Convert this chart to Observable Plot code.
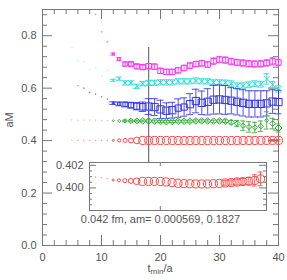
<!DOCTYPE html>
<html><head><meta charset="utf-8">
<script src="https://cdn.jsdelivr.net/npm/d3@7"></script>
<script src="https://cdn.jsdelivr.net/npm/@observablehq/plot@0.6"></script>
<style>
html,body{margin:0;padding:0;background:#fff;}
#chart{position:relative;width:287px;height:280px;}
#chart svg{position:absolute;}
</style></head><body><div id="chart"></div>
<script>
// ---- data (t_min, fitted mass aM, error, fit quality p) ----
const tMagenta = [9,10,11,12,13,14,15,16,17,18,19,20,21,22,23,24,25,26,27,28,29,30,31,32,33,34,35,36,37,38,39,40];
const yMagenta = [0.881,0.815,0.777,0.730,0.711,0.692,0.692,0.683,0.680,0.684,0.682,0.666,0.662,0.662,0.668,0.677,0.686,0.692,0.695,0.690,0.703,0.709,0.707,0.702,0.698,0.696,0.693,0.692,0.693,0.696,0.702,0.698];
const eMagenta = [0.002,0.002,0.002,0.004,0.005,0.007,0.007,0.007,0.008,0.010,0.010,0.010,0.010,0.010,0.010,0.010,0.010,0.010,0.010,0.010,0.012,0.012,0.012,0.012,0.012,0.012,0.012,0.012,0.012,0.012,0.014,0.012];
const pMagenta = [0.012,0.015,0.02,0.06,0.15,0.3,0.4,0.44,0.44,0.44,0.44,0.44,0.44,0.44,0.44,0.44,0.44,0.44,0.44,0.44,0.44,0.44,0.44,0.44,0.44,0.44,0.44,0.44,0.44,0.44,0.44,0.44];

const tCyan = [5,6,7,8,9,10,11,12,13,14,15,16,17,18,19,20,21,22,23,24,25,26,27,28,29,30,31,32,33,34,35,36,37,38,39,40];
const yCyan = [0.756,0.705,0.702,0.670,0.677,0.647,0.668,0.630,0.636,0.620,0.620,0.607,0.617,0.620,0.620,0.622,0.622,0.622,0.626,0.626,0.626,0.629,0.626,0.626,0.622,0.622,0.621,0.617,0.609,0.609,0.613,0.617,0.615,0.635,0.613,0.597];
const eCyan = [0.002,0.002,0.002,0.002,0.002,0.002,0.002,0.004,0.006,0.008,0.008,0.008,0.008,0.010,0.010,0.010,0.010,0.010,0.010,0.010,0.010,0.010,0.010,0.010,0.010,0.010,0.010,0.011,0.011,0.011,0.011,0.011,0.011,0.020,0.012,0.012];
const pCyan = [0.004,0.01,0.01,0.01,0.01,0.01,0.01,0.06,0.15,0.4,0.5,0.6,0.65,0.65,0.65,0.65,0.65,0.65,0.65,0.65,0.65,0.65,0.65,0.65,0.65,0.65,0.65,0.65,0.65,0.65,0.65,0.65,0.65,0.65,0.65,0.65];

const tBlue = [6,7,8,9,10,11,12,13,14,15,16,17,18,19,20,21,22,23,24,25,26,27,28,29,30,31,32,33,34,35,36,37,38,39,40];
const yBlue = [0.609,0.600,0.584,0.577,0.567,0.558,0.543,0.540,0.538,0.535,0.531,0.529,0.530,0.528,0.519,0.514,0.516,0.524,0.528,0.539,0.551,0.544,0.548,0.556,0.557,0.555,0.552,0.548,0.544,0.540,0.540,0.540,0.542,0.549,0.547];
const eBlue = [0.002,0.002,0.002,0.002,0.002,0.002,0.005,0.007,0.009,0.011,0.014,0.018,0.030,0.032,0.035,0.030,0.030,0.035,0.035,0.040,0.045,0.045,0.050,0.055,0.055,0.055,0.050,0.050,0.050,0.050,0.050,0.050,0.048,0.045,0.045];
const pBlue = [0.005,0.01,0.01,0.01,0.01,0.01,0.06,0.15,0.3,0.4,0.55,0.65,0.8,0.8,0.8,0.8,0.8,0.6,0.6,0.8,0.8,0.8,0.8,0.8,0.8,0.8,0.8,0.8,0.8,0.8,0.8,0.8,0.8,0.8,0.8];

const tGreen = [5,6,7,8,9,10,11,12,13,14,15,16,17,18,19,20,21,22,23,24,25,26,27,28,29,30,31,32,33,34,35,36,37,38,39,40];
const yGreen = [0.479,0.478,0.478,0.478,0.477,0.477,0.476,0.476,0.475,0.475,0.475,0.475,0.475,0.475,0.474,0.473,0.472,0.473,0.474,0.474,0.474,0.475,0.475,0.475,0.474,0.475,0.474,0.470,0.465,0.457,0.452,0.450,0.455,0.477,0.465,0.448];
const eGreen = [0.001,0.001,0.001,0.001,0.001,0.001,0.001,0.002,0.002,0.003,0.003,0.003,0.003,0.004,0.004,0.004,0.004,0.004,0.004,0.004,0.004,0.004,0.004,0.004,0.004,0.004,0.005,0.007,0.012,0.018,0.020,0.020,0.020,0.033,0.020,0.015];
const pGreen = [0.004,0.006,0.008,0.008,0.008,0.01,0.01,0.05,0.12,0.25,0.35,0.45,0.55,0.55,0.55,0.55,0.55,0.55,0.55,0.55,0.55,0.55,0.55,0.55,0.55,0.55,0.55,0.5,0.4,0.35,0.35,0.35,0.35,0.2,0.4,0.6];

const tRed = [5,6,7,8,9,10,11,12,13,14,15,16,17,18,19,20,21,22,23,24,25,26,27,28,29,30,31,32,33,34,35,36,37,38,39,40];
const yRed = [0.4016,0.4014,0.4012,0.4011,0.40097,0.40091,0.40082,0.40070,0.40067,0.40064,0.40062,0.40059,0.40058,0.40058,0.40058,0.40057,0.40053,0.40047,0.40041,0.40038,0.40037,0.40035,0.40035,0.40035,0.40037,0.40040,0.40044,0.40047,0.40052,0.40056,0.40060,0.40066,0.40080,0.4008,0.4009,0.4010];
const eRed = [0.00003,0.00003,0.00003,0.00003,0.00003,0.00003,0.00003,0.00004,0.00006,0.0001,0.0001,0.0001,0.0001,0.0001,0.0001,0.00012,0.00014,0.00015,0.00015,0.00015,0.00015,0.00015,0.00015,0.00016,0.00017,0.00018,0.0002,0.00022,0.00025,0.00028,0.00032,0.0005,0.0006,0.002,0.003,0.003];
const pRed = [0.004,0.006,0.008,0.008,0.008,0.01,0.01,0.05,0.12,0.2,0.3,0.55,0.82,0.82,0.82,0.82,0.82,0.82,0.82,0.82,0.82,0.82,0.82,0.82,0.82,0.82,0.82,0.82,0.82,0.82,0.82,0.82,0.82,0.82,0.82,0.82];

const cutT = [18];
const cutRange = [0.30, 0.755];
const caption = "0.042 fm, am= 0.000569, 0.1827";

// axes ticks
const xMajor = [0,10,20,30,40];
const xMinor = [2,4,6,8,12,14,16,18,22,24,26,28,32,34,36,38];
const yMajor = [0,0.2,0.4,0.6,0.8];
const yMinor = [0.04,0.08,0.12,0.16,0.24,0.28,0.32,0.36,0.44,0.48,0.52,0.56,0.64,0.68,0.72,0.76,0.84,0.88];
const insetYMajor = [0.400,0.402];
const insetYMinor = [0.3985,0.399,0.3995,0.4005,0.401,0.4015];
const insetXMajor = [20];
const insetTRange = [9,37];

// ---- symbols ----
const sym = (k, fn) => ({draw(ctx, size){ const r = Math.sqrt(size/Math.PI); fn(ctx, r*k); }});
const symSquare = sym(0.9, (c,h)=>{c.moveTo(-h,-h);c.lineTo(h,-h);c.lineTo(h,h);c.lineTo(-h,h);c.closePath();});
const symDiamond = sym(1.0, (c,h)=>{c.moveTo(0,-h);c.lineTo(h,0);c.lineTo(0,h);c.lineTo(-h,0);c.closePath();});
const symTimes = sym(0.8, (c,h)=>{c.moveTo(-h,-h);c.lineTo(h,h);c.moveTo(h,-h);c.lineTo(-h,h);});
const symCircle = sym(1.0, (c,h)=>{c.moveTo(h,0);c.arc(0,0,h,0,2*Math.PI);});

const rows = (t,y,e,p) => t.map((ti,i)=>({t:ti,y:y[i],e:e[i],p:p[i]}));
const series = [
  {rows: rows(tMagenta,yMagenta,eMagenta,pMagenta), color:"#f3f", symbol:symSquare, cap:0.42},
  {rows: rows(tCyan,yCyan,eCyan,pCyan), color:"#2dd", symbol:symTimes, cap:0.5},
  {rows: rows(tBlue,yBlue,eBlue,pBlue), color:"#33e", symbol:symSquare, cap:0.6},
  {rows: rows(tGreen,yGreen,eGreen,pGreen), color:"#3a3", symbol:symDiamond, cap:0.42},
  {rows: rows(tRed,yRed,eRed,pRed), color:"#f44", symbol:symCircle, cap:0.42}
];

function seriesMarks(s, data, minErr) {
  const eb = data.filter(d => d.e >= minErr);
  return [
    Plot.ruleX(eb, {x:"t", y1:d=>d.y-d.e, y2:d=>d.y+d.e, stroke:s.color, strokeWidth:1, strokeOpacity:0.85}),
    Plot.ruleY(eb, {y:d=>d.y+d.e, x1:d=>d.t-s.cap, x2:d=>d.t+s.cap, stroke:s.color, strokeWidth:1, strokeOpacity:0.85}),
    Plot.ruleY(eb, {y:d=>d.y-d.e, x1:d=>d.t-s.cap, x2:d=>d.t+s.cap, stroke:s.color, strokeWidth:1, strokeOpacity:0.85}),
    Plot.dot(data, {x:"t", y:"y", r:"p", symbol:s.symbol, stroke:s.color, fill:"none",
      strokeWidth: d => d.p < 0.03 ? 0.8 : 1, strokeOpacity: d => d.p < 0.03 ? 0.55 : 1})
  ];
}

const FONT = "'Liberation Sans', Arial, Helvetica, sans-serif";
const W = 287, H = 280, mL = 42, mR = 9, mT = 9, mB = 35;
const pw = W - mL - mR, ph = H - mT - mB;
const AX = "#777";
const rScale = {type:"sqrt", domain:[0,1], range:[0,4.5]};

const main = Plot.plot({
  width: W, height: H, marginLeft: mL, marginRight: mR, marginTop: mT, marginBottom: mB,
  style: {background:"transparent", fontFamily: FONT, fontSize:"11px", color:"#555", overflow:"visible"},
  x: {domain:[0,40], ticks:xMajor, tickSize:0, tickPadding:8, label:null, tickFormat:d=>String(d)},
  y: {domain:[0,0.9], ticks:yMajor, tickSize:0, tickPadding:6, label:null, tickFormat:d3.format(".1f")},
  r: rScale,
  marks: [
    Plot.frame({stroke:AX}),
    Plot.ruleX(xMajor, {insetTop: ph-10, stroke:AX}),
    Plot.ruleX(xMajor, {insetBottom: ph-10, stroke:AX}),
    Plot.ruleX(xMinor, {insetTop: ph-5, stroke:AX}),
    Plot.ruleX(xMinor, {insetBottom: ph-5, stroke:AX}),
    Plot.ruleY(yMajor, {insetRight: pw-10, stroke:AX}),
    Plot.ruleY(yMajor, {insetLeft: pw-10, stroke:AX}),
    Plot.ruleY(yMinor, {insetRight: pw-5, stroke:AX}),
    Plot.ruleY(yMinor, {insetLeft: pw-5, stroke:AX}),
    Plot.ruleX(cutT, {y1:cutRange[0], y2:cutRange[1], stroke:"#555"}),
    ...series.flatMap(s => seriesMarks(s, s.rows, 0.003)),
    Plot.text([caption], {text:d=>d, frameAnchor:"bottom", dy:-23, fontSize:11, fill:"#555", letterSpacing:"0.2px"}),
    Plot.text(["aM"], {text:d=>d, frameAnchor:"left", dx:-33, rotate:-90, fontSize:11, fill:"#555"})
  ]
});
main.style.left = "0px"; main.style.top = "0px";
const xl = d3.select(main).append("text").attr("x", 160).attr("y", 271.5)
  .attr("text-anchor","middle").attr("fill","#555").attr("font-size",11).attr("font-family",FONT);
xl.append("tspan").text("t");
xl.append("tspan").attr("font-size",8).attr("dy",2.5).text("min");
xl.append("tspan").attr("dy",-2.5).text("/a");

// ---- inset ----
const iL = 50, iR = 4, iT = 4, iB = 4, ipw = 177, iph = 48;
const red = series[4];
const insetRows = red.rows.filter(d => d.t >= insetTRange[0] && d.t <= insetTRange[1]);
const inset = Plot.plot({
  width: iL+ipw+iR, height: iT+iph+iB, marginLeft:iL, marginRight:iR, marginTop:iT, marginBottom:iB,
  style: {background:"transparent", fontFamily: FONT, fontSize:"11px", color:"#555", overflow:"visible"},
  x: {domain:[8,38], axis:null},
  y: {domain:[0.398,0.40225], ticks:insetYMajor, tickSize:0, tickPadding:6, label:null, tickFormat:d3.format(".3f")},
  r: rScale,
  marks: [
    Plot.frame({fill:"white", stroke:"none"}),
    Plot.ruleY(insetYMajor, {insetRight: ipw-7, stroke:AX}),
    Plot.ruleY(insetYMajor, {insetLeft: ipw-7, stroke:AX}),
    Plot.ruleY(insetYMinor, {insetRight: ipw-3, stroke:AX}),
    Plot.ruleY(insetYMinor, {insetLeft: ipw-3, stroke:AX}),
    Plot.ruleX(insetXMajor, {insetTop: iph-4, stroke:AX}),
    Plot.ruleX(insetXMajor, {insetBottom: iph-4, stroke:AX}),
    ...seriesMarks(red, insetRows, 0.0002),
    Plot.frame({stroke:AX})
  ]
});
inset.style.left = (89 - iL) + "px"; inset.style.top = (162 - iT) + "px";

const root = document.getElementById("chart");
root.appendChild(main);
root.appendChild(inset);
</script></body></html>
